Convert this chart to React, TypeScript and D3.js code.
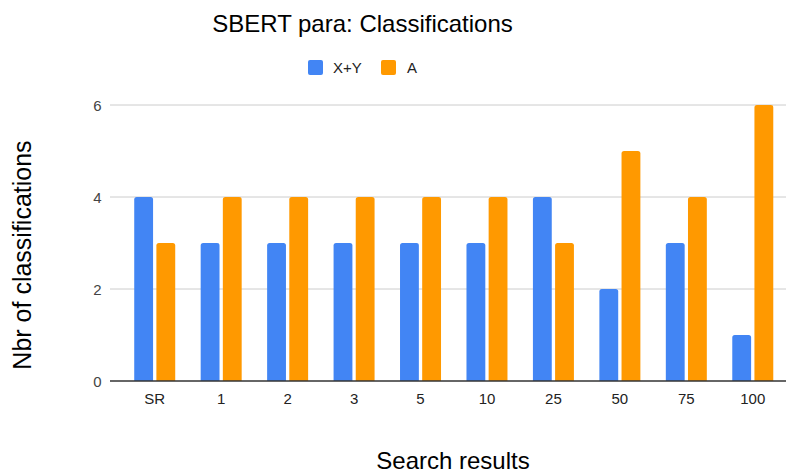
import React from 'react';
import * as d3 from 'd3';

const width = 786;
const height = 475;

const categories = ['SR', '1', '2', '3', '5', '10', '25', '50', '75', '100'];
const seriesNames = ['X+Y', 'A'];
const xyValues = [4, 3, 3, 3, 3, 3, 4, 2, 3, 1];
const aValues = [3, 4, 4, 4, 4, 4, 3, 5, 4, 6];
const yTicks = [0, 2, 4, 6];
const colors = ['#4285f4', '#ff9900'];

const font = '"Liberation Sans", Arial, sans-serif';

// plot area
const left = 110;
const right = 786;
const top = 105;
const bottom = 381;

const x = d3.scaleBand<string>().domain(categories).range([121.5, 786]);
const inner = d3.scaleBand<string>().domain(seriesNames).range([-20.5, 20.5]).paddingInner(0.15);
const y = d3.scaleLinear().domain([0, 6]).range([bottom, top]);

function barPath(x0: number, w: number, y0: number, y1: number, r: number) {
  const p = d3.path();
  p.moveTo(x0, y1);
  p.lineTo(x0, y0 + r);
  p.arcTo(x0, y0, x0 + r, y0, r);
  p.lineTo(x0 + w - r, y0);
  p.arcTo(x0 + w, y0, x0 + w, y0 + r, r);
  p.lineTo(x0 + w, y1);
  p.closePath();
  return p.toString();
}

export default function App() {
  const series = [xyValues, aValues];
  return (
    <svg width={width} height={height} style={{ position: 'absolute', left: 0, top: 0 }} fontFamily={font}>
      <rect width={width} height={height} fill="#fff" />
      <text x={362.5} y={32} textAnchor="middle" fontSize={24} fill="#000">
        SBERT para: Classifications
      </text>

      {/* legend */}
      <g>
        <rect x={308} y={60} width={15} height={15} rx={2} fill={colors[0]} />
        <text x={333} y={73} fontSize={15} fill="#222">{seriesNames[0]}</text>
        <rect x={381} y={60} width={15} height={15} rx={2} fill={colors[1]} />
        <text x={407} y={73} fontSize={15} fill="#222">{seriesNames[1]}</text>
      </g>

      {/* grid */}
      {yTicks.map(t => (
        <g key={t}>
          {t !== 0 && <line x1={left} x2={right} y1={y(t)} y2={y(t)} stroke="#cccccc" strokeWidth={1} />}
          <text x={101.5} y={y(t) + 5.5} textAnchor="end" fontSize={15} fill="#444">{t}</text>
        </g>
      ))}

      {/* bars */}
      {categories.map((c, i) => {
        const cx = (x(c) as number) + x.bandwidth() / 2;
        return (
          <g key={c}>
            {series.map((vals, s) => {
              const bx = cx + (inner(seriesNames[s]) as number);
              return (
                <path key={s} d={barPath(bx, inner.bandwidth(), y(vals[i]), bottom, 2.5)} fill={colors[s]} />
              );
            })}
            <text x={cx} y={404} textAnchor="middle" fontSize={15} fill="#222">{c}</text>
          </g>
        );
      })}

      <line x1={left} x2={right} y1={bottom} y2={bottom} stroke="#333" strokeWidth={1.5} />

      <text x={453} y={469} textAnchor="middle" fontSize={24} fill="#000">Search results</text>
      <text transform={`translate(31,255) rotate(-90)`} textAnchor="middle" fontSize={25} fill="#000">
        Nbr of classifications
      </text>
    </svg>
  );
}
